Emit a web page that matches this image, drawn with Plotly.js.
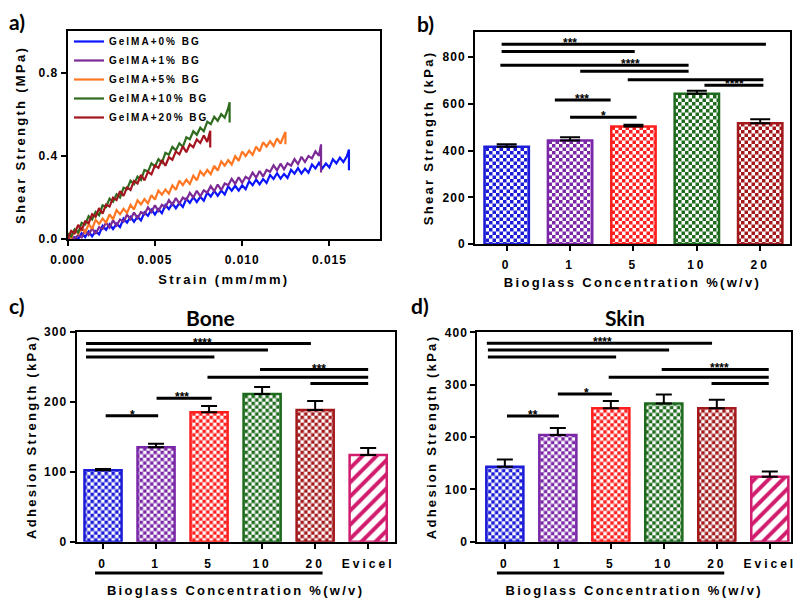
<!DOCTYPE html>
<html>
<head>
<meta charset="utf-8">
<script src="https://cdn.plot.ly/plotly-3.0.1.min.js"></script>
<style>
  html, body { margin: 0; padding: 0; background: #fff; }
  #chart { width: 800px; height: 598px; }
  .xtitle, .x2title, .x3title, .x4title, .ytitle, .y2title, .y3title, .y4title { letter-spacing: 2.3px; }
  .xtick text, .ytick text, .y2tick text, .y3tick text, .y4tick text { letter-spacing: 1px; }
  .x2tick text, .x3tick text, .x4tick text { letter-spacing: 3px; }
  .legendtext { letter-spacing: 2px; }
</style>
</head>
<body>
<div id="chart"></div>
<script>
// ---------------- Panel a: shear stress-strain curves ----------------
const seriesNames = ['GelMA+0% BG', 'GelMA+1% BG', 'GelMA+5% BG', 'GelMA+10% BG', 'GelMA+20% BG'];
const lineColors = ['#0a14ff', '#7b2a96', '#ff7722', '#2e6b1e', '#a3141e'];

// sampled strain positions (mm/mm)
const strainGrid = [0,0.0002,0.0004,0.0006,0.0008,0.001,0.0012,0.0014,0.0016,0.0018,
  0.002,0.0022,0.0024,0.0026,0.0028,0.003,0.0032,0.0034,0.0036,0.0038,
  0.004,0.0042,0.0044,0.0046,0.0048,0.005,0.0052,0.0054,0.0056,0.0058,
  0.006,0.0062,0.0064,0.0066,0.0068,0.007,0.0072,0.0074,0.0076,0.0078,
  0.008,0.0082,0.0084,0.0086,0.0088,0.009,0.0092,0.0094,0.0096,0.0098,
  0.01,0.0102,0.0104,0.0106,0.0108,0.011,0.0112,0.0114,0.0116,0.0118,
  0.012,0.0122,0.0124,0.0126,0.0128,0.013,0.0132,0.0134,0.0136,0.0138,
  0.014,0.0142,0.0144,0.0146,0.0148,0.015,0.0152,0.0154,0.0156,0.0158,0.016];
// strain at failure (vertical drop at the end of each trace)
const failStrain = [0.01612, 0.01452, 0.01248, 0.00928, 0.00817];

// shear stress (MPa), one value per strainGrid point, then peak and post-failure value
const shear0 = [0.01,0,0.008,0,0.028,0.009,0.036,0.013,0.038,0.022,
  0.063,0.044,0.071,0.048,0.073,0.057,0.098,0.079,0.106,0.083,
  0.108,0.089,0.128,0.112,0.141,0.118,0.143,0.124,0.163,0.144,
  0.171,0.148,0.173,0.154,0.193,0.174,0.201,0.178,0.203,0.184,
  0.223,0.204,0.231,0.208,0.233,0.214,0.253,0.232,0.256,0.233,
  0.258,0.239,0.278,0.259,0.286,0.263,0.288,0.269,0.308,0.289,
  0.316,0.29,0.313,0.294,0.333,0.314,0.341,0.315,0.338,0.319,
  0.358,0.339,0.366,0.34,0.363,0.344,0.383,0.364,0.391,0.37,0.398,
  0.43,0.33];
const shear1 = [0,0.02,0,0.019,0.008,0.042,0.02,0.052,0.025,0.057,
  0.048,0.079,0.055,0.09,0.065,0.094,0.083,0.117,0.095,0.127,
  0.1,0.129,0.118,0.152,0.13,0.162,0.135,0.164,0.153,0.187,
  0.165,0.197,0.17,0.199,0.188,0.222,0.2,0.232,0.205,0.234,
  0.223,0.254,0.23,0.262,0.235,0.267,0.258,0.289,0.265,0.297,
  0.27,0.299,0.288,0.319,0.295,0.327,0.3,0.332,0.323,0.354,
  0.33,0.362,0.335,0.364,0.353,0.384,0.36,0.395,0.37,0.399,
  0.388,0.422,0.4,
  0.455,0.32];
const shear5 = [0.024,0.002,0.046,0.025,0.051,0.031,0.071,0.049,0.092,0.072,
  0.098,0.078,0.118,0.095,0.139,0.119,0.145,0.125,0.164,0.142,
  0.186,0.166,0.192,0.171,0.211,0.189,0.233,0.213,0.238,0.218,
  0.258,0.236,0.28,0.259,0.285,0.265,0.304,0.282,0.326,0.306,
  0.332,0.312,0.352,0.329,0.373,0.353,0.379,0.358,0.398,0.376,
  0.42,0.399,0.425,0.404,0.444,0.421,0.465,0.444,0.47,0.447,
  0.484,0.459,0.5,
  0.515,0.455];
const shear10 = [0.028,0.012,0.047,0.031,0.078,0.07,0.11,0.094,0.13,0.114,
  0.162,0.154,0.194,0.179,0.215,0.199,0.247,0.24,0.28,0.264,
  0.3,0.284,0.332,0.324,0.364,0.348,0.384,0.367,0.414,0.405,
  0.443,0.426,0.46,0.443,0.489,0.48,0.518,0.501,0.535,0.518,
  0.564,0.552,0.588,0.568,0.6,0.583,0.629,
  0.658,0.56];
const shear20 = [0,0.039,0.027,0.068,0.042,0.085,0.076,0.119,0.107,0.148,
  0.122,0.165,0.156,0.199,0.187,0.23,0.207,0.248,0.236,0.279,
  0.267,0.308,0.282,0.323,0.311,0.354,0.342,0.38,0.352,0.393,
  0.381,0.421,0.407,0.445,0.417,0.455,0.441,0.479,0.462,0.498,0.467,
  0.52,0.44];

const strainTicks = [0, 0.005, 0.010, 0.015];
const shearMPaTicks = [0, 0.4, 0.8];

// ---------------- Panel b: shear strength bars ----------------
const bgCategories = ['0', '1', '5', '10', '20'];
const shearKPa = [417, 443, 503, 644, 517];
const shearKPaErr = [10, 14, 8, 12, 17];
const barColors = ['#1c1cd8', '#7b28a8', '#ff1f1f', '#1e6b1e', '#a3191c'];
const bSigX0 = [-0.08, -0.08, -0.1, 1.16, 1.91, 3.12, 0.76, 1.0];
const bSigX1 = [4.09, 2.02, 2.87, 2.87, 4.05, 4.05, 1.64, 2.05];
const bSigY  = [856, 824, 766, 740, 704, 680, 617, 543];
const bStarX = [1.0, 1.96, 3.6, 1.19, 1.53];
const bStarY = [856, 766, 680, 617, 543];
const bStarText = ['***', '****', '****', '***', '*'];

// ---------------- Panels c, d: adhesion strength bars ----------------
const adhCategories = ['0', '1', '5', '10', '20', 'Evicel'];
const adhColors = ['#1c1cd8', '#7b28a8', '#ff1f1f', '#1e6b1e', '#a3191c', '#d11c6e'];
const boneKPa = [102, 135, 185, 211, 188, 124];
const boneErr = [2, 5, 9, 10, 13, 10];
const skinKPa = [143, 204, 255, 264, 255, 124];
const skinErr = [14, 13, 14, 17, 16, 10];

const cSigX0 = [-0.32, -0.32, -0.32, 2.96, 1.97, 3.91, 1.01, 0.05];
const cSigX1 = [3.92, 3.11, 2.1, 5.0, 5.0, 5.0, 2.05, 1.04];
const cSigY  = [283, 274, 264, 246, 235, 226, 205, 180];
const cStarX = [1.87, 4.08, 1.48, 0.56];
const cStarY = [283, 246, 205, 180];
const cStarText = ['****', '***', '***', '*'];

const dSigX0 = [-0.34, -0.32, -0.32, 2.96, 1.96, 3.9, 1.0, 0.04];
const dSigX1 = [3.91, 3.1, 2.1, 4.98, 4.98, 4.98, 2.02, 1.02];
const dSigY  = [379, 366, 353, 329, 314, 302, 282, 240];
const dStarX = [1.85, 4.06, 1.54, 0.54];
const dStarY = [379, 329, 282, 240];
const dStarText = ['****', '****', '*', '**'];

const bioglassSpan = [-0.15, 4.14];   // underline under the bioglass groups (category index units)

// ---------------- build ----------------
const F = '"Liberation Sans", Arial, Helvetica, sans-serif';
const TF = 'Lato, "Open Sans", sans-serif';

const lineY = [shear0, shear1, shear5, shear10, shear20];
const traces = lineY.map((ys, i) => {
  const n = ys.length - 2;
  return {
    type: 'scatter', mode: 'lines',
    x: strainGrid.slice(0, n).concat([failStrain[i], failStrain[i]]),
    y: ys, name: seriesNames[i],
    line: { color: lineColors[i], width: 2.2 }, xaxis: 'x', yaxis: 'y'
  };
});

function barTrace(cats, vals, errs, colors, xa, ya, errWidth) {
  const idx = cats.map((c, i) => i);
  return {
    type: 'bar', x: idx, y: vals, xaxis: xa, yaxis: ya, showlegend: false, width: 0.7,
    marker: {
      color: colors,
      line: { color: colors, width: 2.5 },
      pattern: {
        shape: cats.map(c => c === 'Evicel' ? '/' : '.'),
        bgcolor: colors,
        fgcolor: cats.map(() => '#ffffff'),
        size: cats.map(c => c === 'Evicel' ? 10 : 7),
        solidity: cats.map(c => c === 'Evicel' ? 0.4 : 0.3),
        fillmode: 'replace'
      }
    },
    error_y: { type: 'data', array: errs, arrayminus: errs.map(() => 0), symmetric: false,
               color: '#000', thickness: 2, width: errWidth }
  };
}
traces.push(barTrace(bgCategories, shearKPa, shearKPaErr, barColors, 'x2', 'y2', 10));
traces.push(barTrace(adhCategories, boneKPa, boneErr, adhColors, 'x3', 'y3', 8));
traces.push(barTrace(adhCategories, skinKPa, skinErr, adhColors, 'x4', 'y4', 8));

const shapes = [];
const annotations = [];
function addSig(x0s, x1s, ys, sx, sy, st, xr, yr) {
  x0s.forEach((x0, i) => shapes.push({ type: 'line', xref: xr, yref: yr, x0: x0, x1: x1s[i], y0: ys[i], y1: ys[i],
    line: { color: '#000', width: 3 } }));
  sx.forEach((x, i) => annotations.push({ xref: xr, yref: yr, x: x, y: sy[i], text: st[i], showarrow: false,
    xanchor: 'center', yanchor: 'middle', yshift: 1, font: { family: F, size: 12, color: '#000', weight: 'bold' } }));
}
addSig(bSigX0, bSigX1, bSigY, bStarX, bStarY, bStarText, 'x2', 'y2');
addSig(cSigX0, cSigX1, cSigY, cStarX, cStarY, cStarText, 'x3', 'y3');
addSig(dSigX0, dSigX1, dSigY, dStarX, dStarY, dStarText, 'x4', 'y4');

['x3', 'x4'].forEach(xr => shapes.push({ type: 'line', xref: xr, yref: 'paper', x0: bioglassSpan[0], x1: bioglassSpan[1],
  y0: 1 - 573 / 598, y1: 1 - 573 / 598, line: { color: '#000', width: 3 } }));

const panelLabels = [['a)', 17, 22], ['b)', 425, 24], ['c)', 17, 305], ['d)', 420, 305]];
panelLabels.forEach(p => annotations.push({ xref: 'paper', yref: 'paper', x: p[1] / 800, y: 1 - p[2] / 598, text: p[0],
  showarrow: false, xanchor: 'center', yanchor: 'middle', font: { family: TF, size: 21, color: '#000', weight: 'bold' } }));
annotations.push({ xref: 'paper', yref: 'paper', x: 210 / 800, y: 1 - 317 / 598, text: 'Bone', showarrow: false,
  xanchor: 'center', yanchor: 'middle', font: { family: TF, size: 21, color: '#000', weight: 'bold' } });
annotations.push({ xref: 'paper', yref: 'paper', x: 625 / 800, y: 1 - 317 / 598, text: 'Skin', showarrow: false,
  xanchor: 'center', yanchor: 'middle', font: { family: TF, size: 21, color: '#000', weight: 'bold' } });

function axis(extra) {
  return Object.assign({
    showline: true, linecolor: '#000', linewidth: 2, mirror: true,
    ticks: 'outside', ticklen: 5, tickwidth: 2, tickcolor: '#000',
    showgrid: false, zeroline: false, fixedrange: true,
    tickfont: { family: F, size: 12, color: '#000', weight: 'bold' }
  }, extra);
}
function ttl(text, standoff) {
  return { text: text, standoff: standoff, font: { family: F, size: 13, color: '#000', weight: 'bold' } };
}

const layout = {
  width: 800, height: 598,
  margin: { l: 0, r: 0, t: 0, b: 0 },
  paper_bgcolor: '#fff', plot_bgcolor: '#fff',
  font: { family: F, size: 12, color: '#000', weight: 'bold' },
  showlegend: true,
  legend: { x: 69 / 800, y: 1 - 27 / 598, xanchor: 'left', yanchor: 'top', bgcolor: 'rgba(0,0,0,0)',
            font: { family: F, size: 10, color: '#000', weight: 'bold' }, tracegroupgap: 0, itemwidth: 30 },
  xaxis: axis({ domain: [67.7 / 800, 380 / 800], anchor: 'y', range: [0, 0.0179], tickvals: strainTicks,
                tickformat: '.3f', ticklabelstandoff: 4, title: ttl('Strain (mm/mm)', 8) }),
  yaxis: axis({ domain: [1 - 239 / 598, 1 - 31 / 598], anchor: 'x', range: [0, 1.0], tickvals: shearMPaTicks,
                tickformat: '.1f', title: ttl('Shear Strength (MPa)', 10) }),
  xaxis2: axis({ domain: [475 / 800, 790 / 800], anchor: 'y2', range: [-0.5, 4.47],
                 tickvals: bgCategories.map((c, i) => i), ticktext: bgCategories, ticklabelstandoff: 4,
                 title: ttl('Bioglass Concentration %(w/v)', 6) }),
  yaxis2: axis({ domain: [1 - 244 / 598, 1 - 32 / 598], anchor: 'x2', range: [0, 908], dtick: 200,
                 title: ttl('Shear Strength (kPa)', 6) }),
  xaxis3: axis({ domain: [76.5 / 800, 394.7 / 800], anchor: 'y3', range: [-0.5, 5.5],
                 tickvals: adhCategories.map((c, i) => i), ticktext: adhCategories, ticklabelstandoff: 5,
                 title: ttl('Bioglass Concentration %(w/v)', 20) }),
  yaxis3: axis({ domain: [1 - 541.7 / 598, 1 - 331.7 / 598], anchor: 'x3', range: [0, 300], dtick: 100,
                 title: ttl('Adhesion Strength (kPa)', 5) }),
  xaxis4: axis({ domain: [477.3 / 800, 791 / 800], anchor: 'y4', range: [-0.52, 5.4],
                 tickvals: adhCategories.map((c, i) => i), ticktext: adhCategories, ticklabelstandoff: 5,
                 title: ttl('Bioglass Concentration %(w/v)', 20) }),
  yaxis4: axis({ domain: [1 - 541.7 / 598, 1 - 332.3 / 598], anchor: 'x4', range: [0, 400], dtick: 100,
                 title: ttl('Adhesion Strength (kPa)', 5) }),
  shapes: shapes,
  annotations: annotations
};

// turn Plotly's dot patterns into a checkerboard fill (bars keep Plotly geometry)
function checkerize() {
  const ns = 'http://www.w3.org/2000/svg';
  document.querySelectorAll('#chart pattern').forEach(p => {
    const circ = p.querySelector('circle');
    if (!circ) return;
    const bg = p.querySelector('rect');
    let col = bg ? (bg.getAttribute('fill') || bg.style.fill) : null;
    if (!col) col = circ.getAttribute('fill') || circ.style.fill || '#000';
    const s = parseFloat(p.getAttribute('width'));
    const h = s / 2;
    while (p.firstChild) p.removeChild(p.firstChild);
    const mk = (x, y, w, f) => {
      const r = document.createElementNS(ns, 'rect');
      r.setAttribute('x', x); r.setAttribute('y', y);
      r.setAttribute('width', w); r.setAttribute('height', w);
      r.setAttribute('fill', f); p.appendChild(r);
    };
    mk(0, 0, s, '#ffffff'); mk(0, 0, h, col); mk(h, h, h, col);
  });
}

Plotly.newPlot('chart', traces, layout, { staticPlot: true, displayModeBar: false }).then(checkerize);
</script>
</body>
</html>
